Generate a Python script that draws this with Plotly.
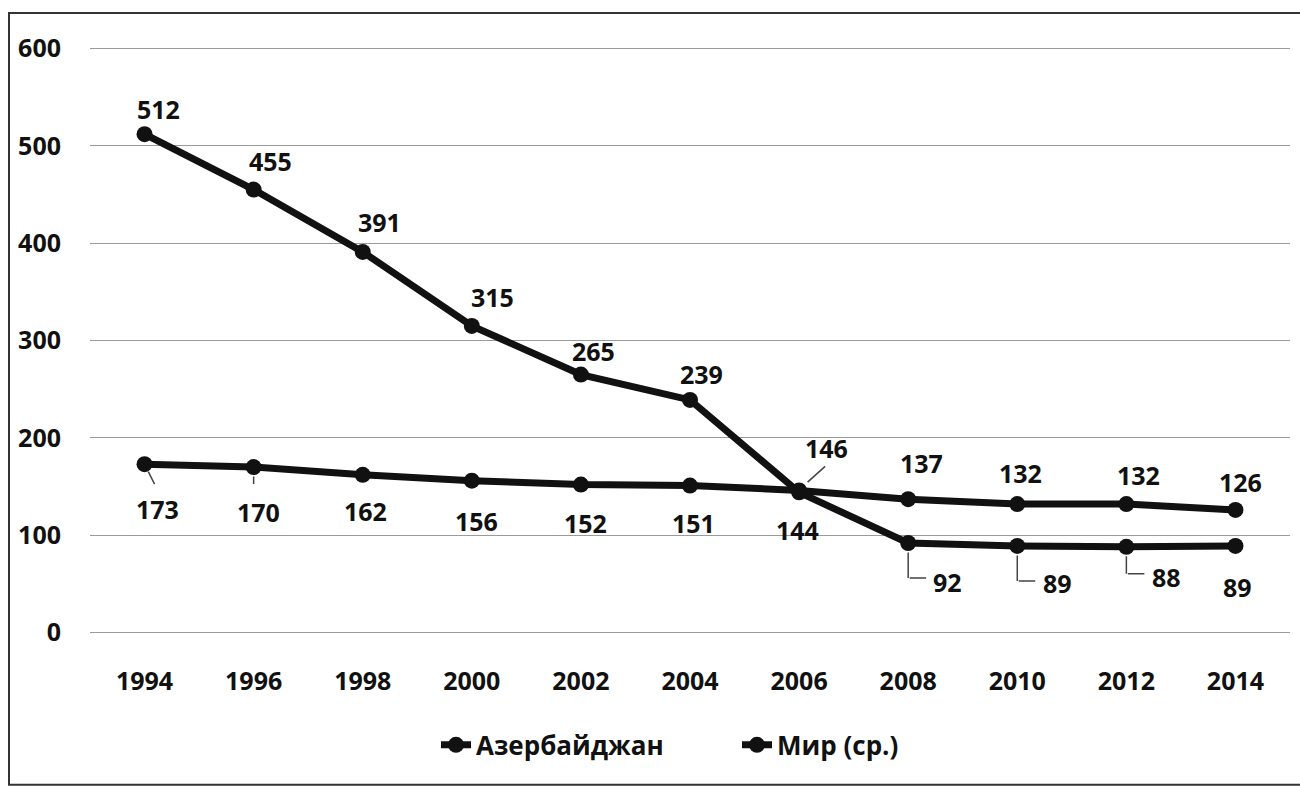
import plotly.graph_objects as go

# ---- data ----
years = ["1994", "1996", "1998", "2000", "2002", "2004", "2006", "2008", "2010", "2012", "2014"]
azerbaijan = [512, 455, 391, 315, 265, 239, 144, 92, 89, 88, 89]
world = [173, 170, 162, 156, 152, 151, 146, 137, 132, 132, 126]
series_names = ["Азербайджан", "Мир (ср.)"]
y_ticks = [0, 100, 200, 300, 400, 500, 600]

# ---- label offsets (pixels, style only) ----
az_shift = [(14, 25), (17, 29), (17, 30), (21, 29), (13, 24), (11, 26),
            (-2, -38), (39, -39), (40, -37), (40, -30), (2, -41)]
w_shift = [(13, -45), (5, -45), (3, -36), (5, -40), (5, -38), (3, -37),
           (27, 42), (13, 36), (3, 31), (12, 29), (5, 28)]

FONT = "Open Sans"
BLACK = "#111111"

fig = go.Figure()
for name, vals in zip(series_names, [azerbaijan, world]):
    fig.add_trace(go.Scatter(
        x=years, y=vals, name=name, mode="lines+markers",
        line=dict(color=BLACK, width=7),
        marker=dict(color=BLACK, size=16, symbol="circle"),
        cliponaxis=False, hoverinfo="skip",
    ))

# on a category axis, annotation x is the category index
annotations = []
for vals, shifts in [(azerbaijan, az_shift), (world, w_shift)]:
    for i, (v, (dx, dy)) in enumerate(zip(vals, shifts)):
        annotations.append(dict(
            x=i, y=v, text=str(v), showarrow=False,
            xshift=dx, yshift=dy,
            font=dict(family=FONT, size=25, color=BLACK, weight="bold"),
        ))

# leader lines: segments given as pixel offsets (up-positive) from the point
def segment(i, v, a, b):
    return dict(x=i, y=v, text="", showarrow=True, arrowhead=0,
                arrowwidth=1.5, arrowcolor="#444444",
                xshift=b[0], yshift=b[1],
                ax=a[0] - b[0], ay=-(a[1] - b[1]),
                standoff=0, startstandoff=0)

annotations += [
    segment(0, world[0], (3, -6), (10, -20)),
    segment(1, world[1], (0, -8), (0, -17)),
    segment(6, world[6], (7, 7), (26, 24)),
]
for i, drop in [(7, -35), (8, -35), (9, -27)]:
    annotations.append(segment(i, azerbaijan[i], (0, -8), (0, drop)))
    annotations.append(segment(i, azerbaijan[i], (0, drop), (18, drop)))

shapes = [dict(type="rect", xref="paper", yref="paper",
               x0=-0.0675, x1=1.03, y0=-0.257, y1=1.058,
               line=dict(color="#333333", width=2), layer="below")]

fig.update_layout(
    width=1300, height=789,
    paper_bgcolor="white", plot_bgcolor="white",
    margin=dict(l=90, r=10, t=47, b=155),
    font=dict(family=FONT, color=BLACK),
    showlegend=True,
    legend=dict(orientation="h", x=(436 - 90) / 1200, xanchor="left", y=-0.189, yanchor="middle",
                font=dict(family=FONT, size=26, color=BLACK, weight="bold"),
                entrywidth=256, entrywidthmode="pixels",
                tracegroupgap=0, bgcolor="rgba(0,0,0,0)"),
    annotations=annotations,
    shapes=shapes,
)
fig.update_xaxes(type="category", range=[-0.5, 10.5], showgrid=False, zeroline=False,
                 showline=False, ticks="", ticklabelstandoff=30,
                 tickfont=dict(family=FONT, size=25, color=BLACK, weight="bold"))
fig.update_yaxes(range=[-1.5, 601.5], tickvals=y_ticks, showgrid=True, gridcolor="#9a9a9a",
                 gridwidth=1, zeroline=False, showline=False, ticks="",
                 ticklabelstandoff=28,
                 tickfont=dict(family=FONT, size=25, color=BLACK, weight="bold"))

fig.write_html("out.html", config={"displayModeBar": False},
               post_script="document.body.style.margin='0';")
